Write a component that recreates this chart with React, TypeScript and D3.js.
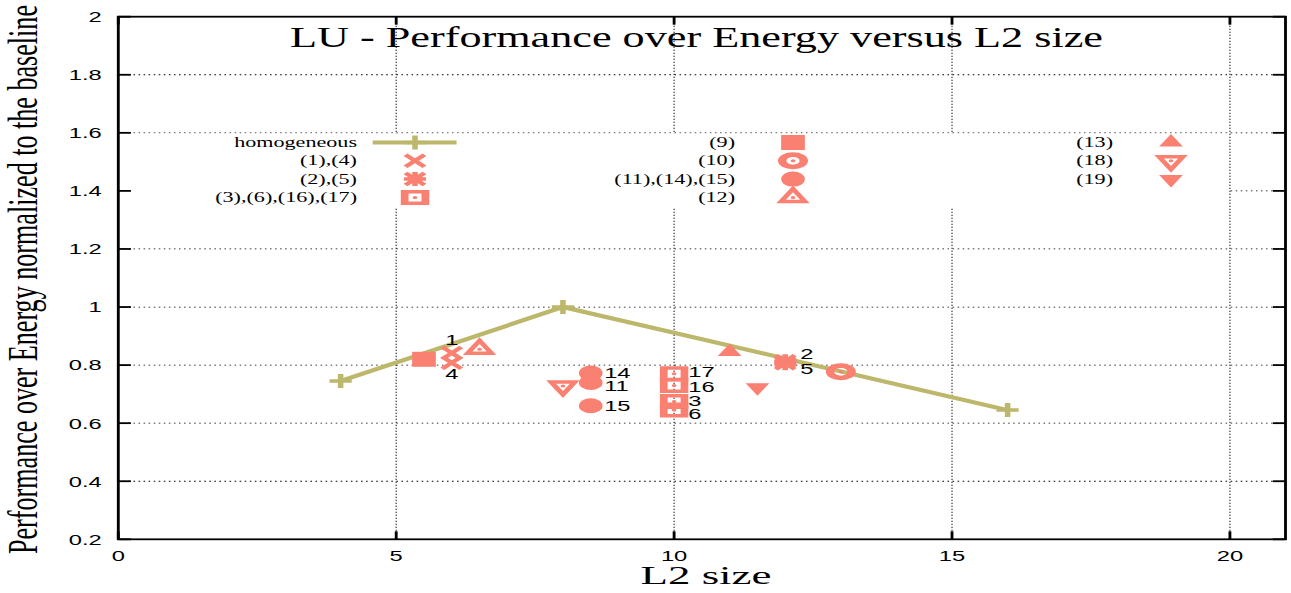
import * as d3 from "d3";
import React from "react";

// the reference picture is stretched sideways, so everything is drawn in a
// narrower box and the svg stretches it back out
const SX = 1.58;
const W = 1291 / SX;
const H = 593;

const xTicks = [0, 5, 10, 15, 20];
const yTicks = [0.2, 0.4, 0.6, 0.8, 1, 1.2, 1.4, 1.6, 1.8, 2];
const yTickLabels = ["0.2", "0.4", "0.6", "0.8", "1", "1.2", "1.4", "1.6", "1.8", "2"];

const homogeneousSize = [4, 8, 16];
const homogeneousValue = [0.745, 1.0, 0.645];

const configIds = ["1", "4", "2", "5", "3", "6", "16", "17", "9", "10", "11", "14", "15", "12", "13", "18", "19"];
const configSize = [6, 6, 12, 12, 10, 10, 10, 10, 5.5, 13, 8.5, 8.5, 8.5, 6.5, 11, 8, 11.5];
const configValue = [0.842, 0.808, 0.813, 0.806, 0.675, 0.645, 0.73, 0.77, 0.82, 0.777, 0.74, 0.773, 0.66, 0.855, 0.845, 0.728, 0.724];
const configGroup = [1, 1, 2, 2, 3, 3, 3, 3, 4, 5, 6, 6, 6, 7, 8, 9, 10];

const keyLabels = [
  "homogeneous", "(1),(4)", "(2),(5)", "(3),(6),(16),(17)",
  "(9)", "(10)", "(11),(14),(15)", "(12)",
  "(13)", "(18)", "(19)",
];
const keyShapes = [
  "plus", "cross", "star", "box",
  "boxFilled", "circle", "circleFilled", "triangle",
  "triangleFilled", "triangleDown", "triangleDownFilled",
];

// where each point number sits relative to its point
const labelOffset: Record<string, [number, number, string]> = {
  "1": [0, -13.5, "middle"],
  "4": [0, 10.5, "middle"],
  "2": [9.5, -8, "start"],
  "5": [9.5, 5, "start"],
  "3": [9, -1, "start"],
  "6": [9, 4, "start"],
  "16": [9, 1, "start"],
  "17": [9, -2, "start"],
  "14": [8.5, 0, "start"],
  "11": [8.5, 3, "start"],
  "15": [8.5, 0, "start"],
};

const KHAKI = "#bdb76b";
const SALMON = "#fa8072";
const SANS = "'Liberation Sans', Arial, Helvetica, sans-serif";
const SERIF = "'Liberation Serif', 'Times New Roman', serif";

const plot = { left: 118.3 / SX, right: 1285.5 / SX, top: 16.7, bottom: 539.3 };

const x = d3.scaleLinear().domain([0, 21]).range([plot.left, plot.right]);
const y = d3.scaleLinear().domain([0.2, 2]).range([plot.bottom, plot.top]);

function Marker({ shape, color }: { shape: string; color: string }) {
  const dot = <circle r={1.5} fill={color} />;
  const up = "M0,-8.5L7.5,4L-7.5,4Z";
  const down = "M0,8.5L7.5,-4L-7.5,-4Z";
  switch (shape) {
    case "plus":
      return <path d="M-7,0H7M0,-7V7" stroke={color} strokeWidth={3.5} fill="none" />;
    case "cross":
      return <path d="M-6,-6L6,6M-6,6L6,-6" stroke={color} strokeWidth={3.5} fill="none" />;
    case "star":
      return (
        <path d="M-6,-6L6,6M-6,6L6,-6M-7,0H7M0,-7V7" stroke={color} strokeWidth={3.5} fill="none" />
      );
    case "box":
      return (
        <g>
          <path d="M-9,-7.5h18v15h-18zM-4.1,-4v8h8.2v-8z" fill={color} fillRule="evenodd" />
          {dot}
        </g>
      );
    case "boxFilled":
      return <rect x={-7.5} y={-7.5} width={15} height={15} fill={color} />;
    case "circle":
      return (
        <g>
          <path
            d="M-9.5,0a9.5,8.5 0 1,0 19,0a9.5,8.5 0 1,0 -19,0zM-4.2,0a4.2,3.9 0 1,0 8.4,0a4.2,3.9 0 1,0 -8.4,0z"
            fill={color}
            fillRule="evenodd"
          />
          {dot}
        </g>
      );
    case "circleFilled":
      return <circle r={7.5} fill={color} />;
    case "triangle":
      return (
        <g>
          <path d={up} stroke={color} strokeWidth={3.5} fill="none" />
          {dot}
        </g>
      );
    case "triangleFilled":
      return <path d={up} fill={color} />;
    case "triangleDown":
      return (
        <g>
          <path d={down} stroke={color} strokeWidth={3.5} fill="none" />
          {dot}
        </g>
      );
    default:
      return <path d={down} fill={color} />;
  }
}

export default function App() {
  const homogeneous = homogeneousSize.map((s, i) => ({ s, v: homogeneousValue[i] }));
  const line = d3
    .line<{ s: number; v: number }>()
    .x((d) => x(d.s))
    .y((d) => y(d.v));

  const tickLen = 8;
  const keyRowY = (i: number) => 142.5 + (i % 4) * 18.3;
  const keySymX = (i: number) => 415 / SX + Math.floor(i / 4) * (378 / SX);

  return (
    <svg
      width={1291}
      height={H}
      viewBox={`0 0 ${W} ${H}`}
      preserveAspectRatio="none"
      style={{ position: "absolute", left: 0, top: 0, background: "#fff" }}
    >
      <rect width={W} height={H} fill="#fff" />

      {/* grid */}
      <g stroke="#000" strokeWidth={0.8}>
        {yTicks
          .filter((t) => t > 0.2 && t < 2)
          .map((t) => (
            <line
              key={"gy" + t}
              x1={plot.left}
              x2={plot.right}
              y1={y(t)}
              y2={y(t)}
              strokeDasharray="1,2.2"
            />
          ))}
        {xTicks
          .filter((t) => t > 0)
          .map((t) => (
            <line
              key={"gx" + t}
              x1={x(t)}
              x2={x(t)}
              y1={plot.top}
              y2={plot.bottom}
              strokeDasharray="1,2"
            />
          ))}
      </g>

      {/* key */}
      <rect x={plot.left + 1} y={133.5} width={1229 / SX - plot.left - 1} height={73.5} fill="#fff" />
      {keyLabels.map((label, i) => {
        const kx = keySymX(i);
        const ky = keyRowY(i);
        const color = i === 0 ? KHAKI : SALMON;
        return (
          <g key={"k" + i}>
            <text
              x={kx - 36.7}
              y={ky + 4.5}
              textAnchor="end"
              fontFamily={SERIF}
              fontSize={14}
              fill="#000"
            >
              {label}
            </text>
            {i === 0 && (
              <line x1={kx - 26.8} x2={kx + 26.3} y1={ky} y2={ky} stroke={KHAKI} strokeWidth={4} />
            )}
            <g transform={`translate(${kx},${ky})`}>
              <Marker shape={keyShapes[i]} color={color} />
            </g>
          </g>
        );
      })}

      {/* title */}
      <text
        x={696.5 / SX}
        y={47}
        textAnchor="middle"
        fontFamily={SERIF}
        fontSize={28.5}
        textLength={813 / SX}
        lengthAdjust="spacingAndGlyphs"
        fill="#000"
      >
        LU - Performance over Energy versus L2 size
      </text>

      {/* homogeneous */}
      <path d={line(homogeneous) ?? ""} fill="none" stroke={KHAKI} strokeWidth={4} />
      {homogeneous.map((d, i) => (
        <g key={"h" + i} transform={`translate(${x(d.s)},${y(d.v)})`}>
          <Marker shape="plus" color={KHAKI} />
        </g>
      ))}

      {/* configurations */}
      {configIds.map((id, i) => (
        <g key={"c" + id} transform={`translate(${x(configSize[i])},${y(configValue[i])})`}>
          <Marker shape={keyShapes[configGroup[i]]} color={SALMON} />
        </g>
      ))}
      {configIds
        .filter((id) => labelOffset[id])
        .map((id) => {
          const i = configIds.indexOf(id);
          const [dx, dy, anchor] = labelOffset[id];
          return (
            <text
              key={"l" + id}
              x={x(configSize[i]) + dx}
              y={y(configValue[i]) + dy + 5.4}
              textAnchor={anchor}
              fontFamily={SANS}
              fontSize={15}
              fill="#000"
            >
              {id}
            </text>
          );
        })}

      {/* border and ticks */}
      <g stroke="#000" strokeWidth={1.8} fill="none">
        <rect x={plot.left} y={plot.top} width={plot.right - plot.left} height={plot.bottom - plot.top} />
        {yTicks.map((t) => (
          <g key={"ty" + t}>
            <line x1={plot.left} x2={plot.left + tickLen} y1={y(t)} y2={y(t)} />
            <line x1={plot.right} x2={plot.right - tickLen} y1={y(t)} y2={y(t)} />
          </g>
        ))}
        {xTicks.map((t) => (
          <g key={"tx" + t}>
            <line x1={x(t)} x2={x(t)} y1={plot.bottom} y2={plot.bottom - tickLen} />
            <line x1={x(t)} x2={x(t)} y1={plot.top} y2={plot.top + tickLen} />
          </g>
        ))}
      </g>

      {/* tick labels */}
      {yTicks.map((t, i) => (
        <text
          key={"yl" + t}
          x={101.7 / SX}
          y={y(t) + 5.4}
          textAnchor="end"
          fontFamily={SANS}
          fontSize={15}
          fill="#000"
        >
          {yTickLabels[i]}
        </text>
      ))}
      {xTicks.map((t) => (
        <text
          key={"xl" + t}
          x={x(t)}
          y={561.5}
          textAnchor="middle"
          fontFamily={SANS}
          fontSize={15}
          fill="#000"
        >
          {t}
        </text>
      ))}

      {/* axis titles */}
      <text
        x={706 / SX}
        y={584}
        textAnchor="middle"
        fontFamily={SERIF}
        fontSize={25.5}
        textLength={131 / SX}
        lengthAdjust="spacingAndGlyphs"
        fill="#000"
      >
        L2 size
      </text>
      <text
        transform={`translate(${37.3 / SX},279.5) rotate(-90)`}
        textAnchor="middle"
        fontFamily={SERIF}
        fontSize={26.1}
        textLength={549}
        lengthAdjust="spacingAndGlyphs"
        fill="#000"
      >
        Performance over Energy normalized to the baseline
      </text>
    </svg>
  );
}
